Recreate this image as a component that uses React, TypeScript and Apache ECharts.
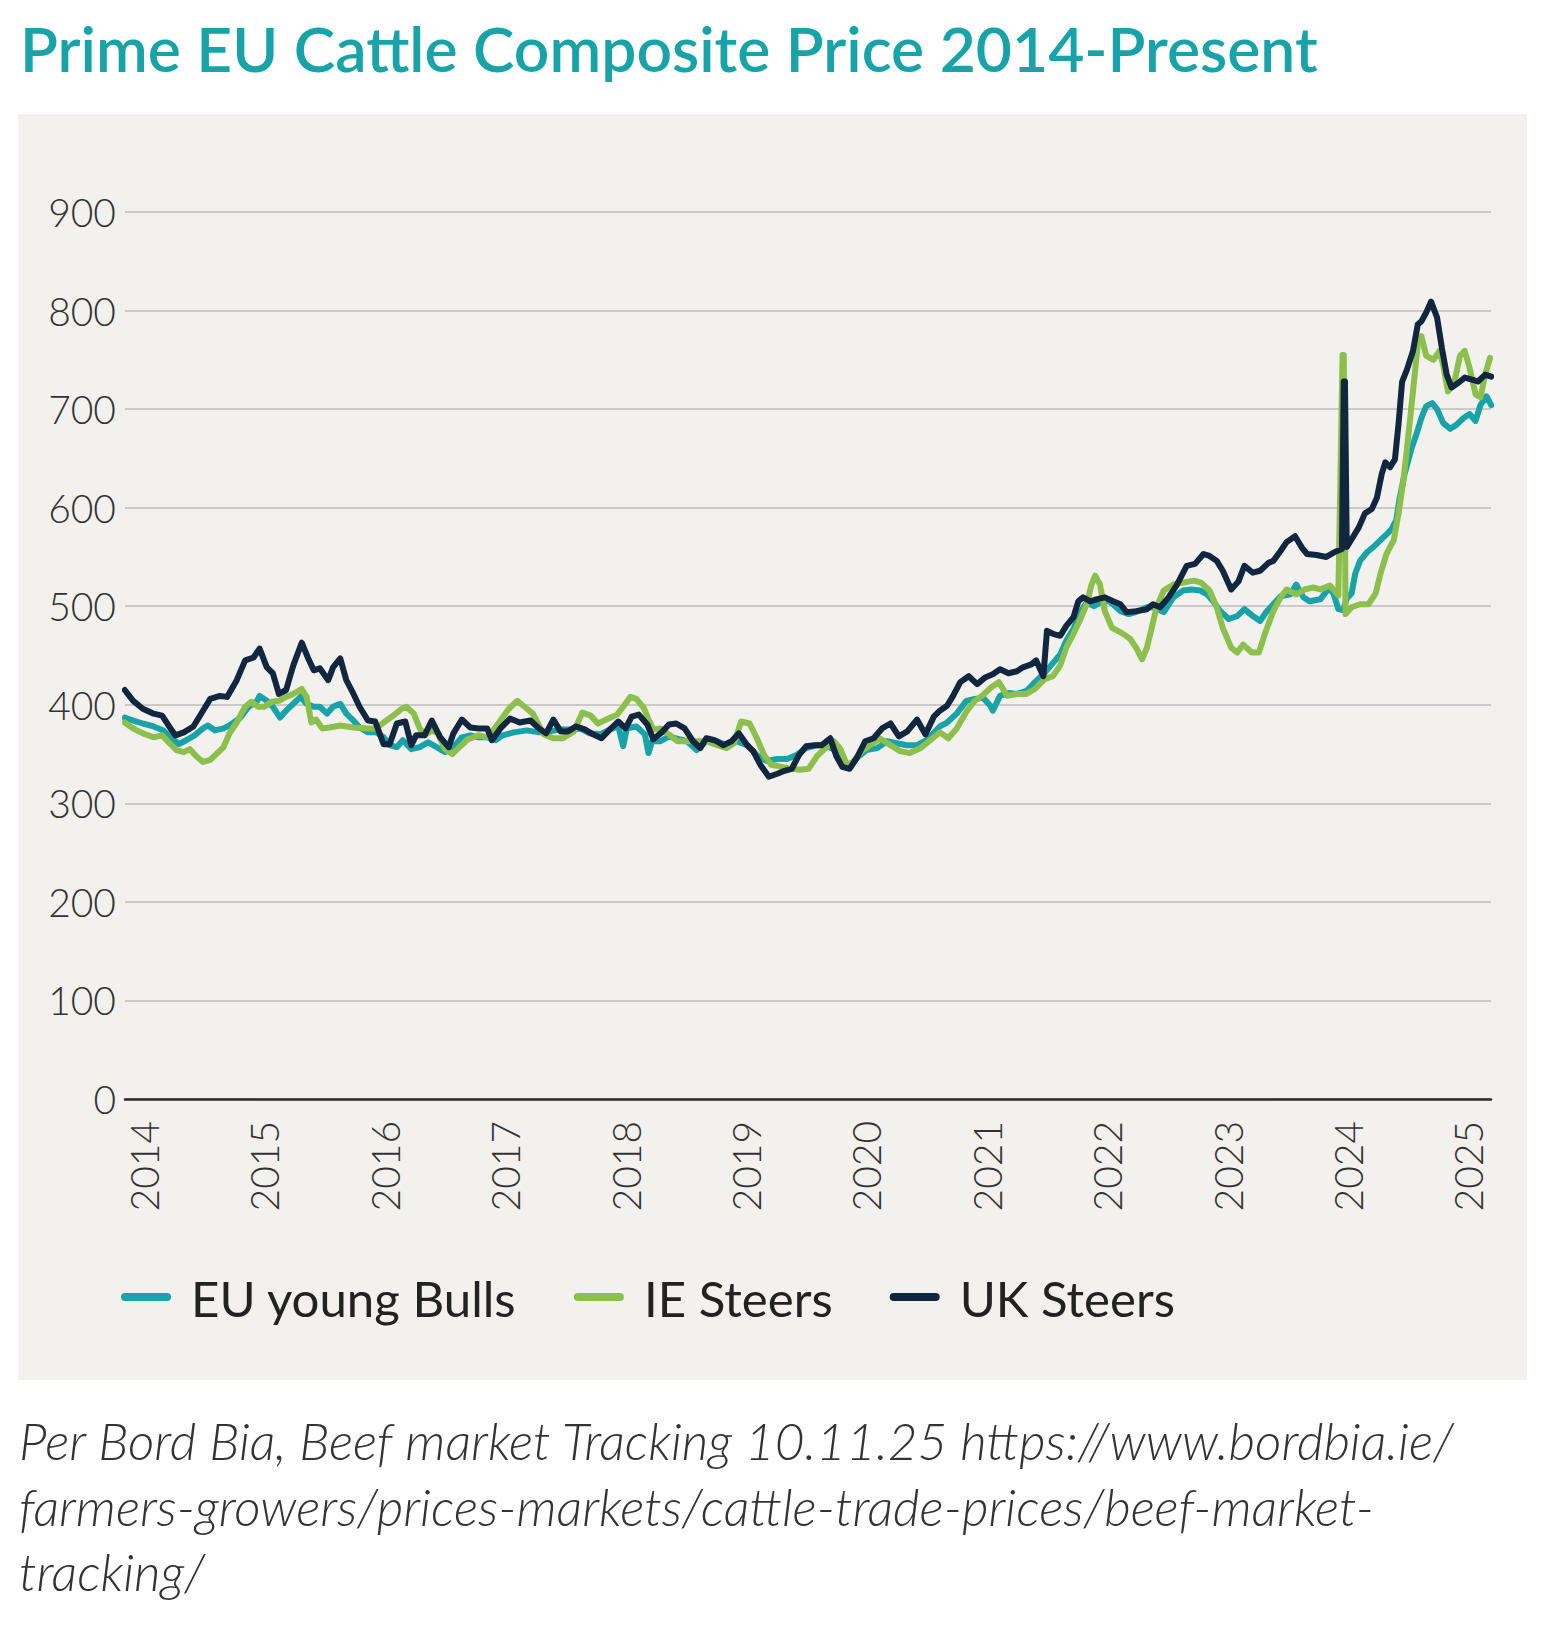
import React, { useEffect, useRef } from 'react';
import * as echarts from 'echarts';

const chartTitle = 'Prime EU Cattle Composite Price 2014-Present';
const seriesNames = ['EU young Bulls', 'IE Steers', 'UK Steers'];
const yearTicks = [2014, 2015, 2016, 2017, 2018, 2019, 2020, 2021, 2022, 2023, 2024, 2025];
const sourceLines = [
  'Per Bord Bia, Beef market Tracking 10.11.25 https://www.bordbia.ie/',
  'farmers-growers/prices-markets/cattle-trade-prices/beef-market-',
  'tracking/',
];

// [decimal year, price]
const euYoungBulls: [number, number][] = [
  [2013.84,387],[2013.91,384],[2013.99,381],[2014.08,378],[2014.16,374],[2014.22,367],[2014.29,360],[2014.35,364],[2014.42,369],[2014.49,376],[2014.53,379],[2014.59,374],[2014.66,376],[2014.71,379],[2014.80,387],[2014.87,398],[2014.94,404],[2014.96,409],[2015.02,404],[2015.07,398],[2015.13,387],[2015.18,394],[2015.24,401],[2015.30,408],[2015.35,401],[2015.41,398],[2015.46,398],[2015.52,391],[2015.57,398],[2015.63,401],[2015.68,391],[2015.74,384],[2015.79,377],[2015.86,372],[2015.93,372],[2015.99,367],[2016.04,359],[2016.10,357],[2016.15,364],[2016.22,355],[2016.29,357],[2016.36,362],[2016.43,357],[2016.50,352],[2016.57,357],[2016.64,367],[2016.71,369],[2016.78,367],[2016.85,367],[2016.92,364],[2016.98,369],[2017.07,372],[2017.18,374],[2017.28,372],
  [2017.37,373],[2017.46,375],[2017.54,375],[2017.62,376],[2017.70,371],[2017.79,370],[2017.87,375],[2017.94,378],[2017.98,358],[2018.01,376],[2018.09,378],[2018.16,370],[2018.19,351],[2018.22,363],[2018.29,363],[2018.36,368],[2018.42,366],[2018.51,363],[2018.59,354],[2018.67,363],[2018.76,363],[2018.84,359],[2018.92,363],[2019.01,359],[2019.09,349],[2019.17,343],[2019.26,345],[2019.34,345],[2019.42,349],[2019.50,356],[2019.59,359],[2019.67,359],[2019.75,353],[2019.81,339],[2019.86,337],[2019.92,346],[2020.00,354],[2020.09,356],[2020.17,363],[2020.25,361],[2020.34,359],[2020.42,359],[2020.50,364],[2020.61,378],
  [2020.67,382],[2020.75,391],[2020.83,404],[2020.90,406],[2020.97,407],[2021.03,399],[2021.05,394],[2021.11,409],[2021.18,412],[2021.25,411],[2021.33,414],[2021.40,423],[2021.47,431],[2021.54,441],[2021.61,451],[2021.66,465],[2021.72,477],[2021.77,492],[2021.83,504],[2021.89,500],[2021.96,505],[2022.02,505],[2022.11,495],[2022.18,492],[2022.26,495],[2022.33,499],[2022.38,499],[2022.47,494],[2022.55,509],[2022.63,516],[2022.70,517],[2022.77,516],[2022.83,512],[2022.88,505],[2022.94,495],[2023.01,487],[2023.08,490],[2023.14,497],[2023.21,490],[2023.27,485],[2023.32,494],[2023.38,502],[2023.44,510],[2023.52,512],[2023.57,522],[2023.63,509],[2023.68,505],[2023.77,507],
  [2023.84,518],[2023.88,513],[2023.92,497],[2023.96,496],[2023.99,508],[2024.03,513],[2024.06,533],[2024.10,546],[2024.16,555],[2024.21,560],[2024.27,567],[2024.32,573],[2024.36,578],[2024.40,587],[2024.43,610],[2024.47,634],[2024.53,661],[2024.57,675],[2024.61,691],[2024.65,703],[2024.70,706],[2024.74,700],[2024.79,686],[2024.85,680],[2024.90,684],[2024.96,691],[2025.01,695],[2025.06,688],[2025.10,704],[2025.15,713],[2025.19,704],
];

const ieSteers: [number, number][] = [
  [2013.84,382],[2013.91,376],[2013.99,371],[2014.08,367],[2014.15,369],[2014.22,360],[2014.27,354],[2014.33,352],[2014.38,355],[2014.44,347],[2014.49,342],[2014.55,344],[2014.60,350],[2014.66,357],[2014.71,371],[2014.77,382],[2014.84,398],[2014.89,403],[2014.95,398],[2015.00,398],[2015.06,403],[2015.12,404],[2015.18,408],[2015.24,411],[2015.31,416],[2015.35,408],[2015.39,382],[2015.43,385],[2015.48,376],[2015.54,377],[2015.63,379],[2015.74,377],[2015.85,376],[2015.93,376],[2015.99,382],[2016.07,389],[2016.14,396],[2016.18,398],[2016.24,391],[2016.29,376],[2016.33,369],[2016.39,374],[2016.44,371],[2016.50,355],[2016.56,350],[2016.62,357],[2016.69,365],[2016.78,369],[2016.85,367],[2016.90,374],[2016.96,384],[2017.03,396],[2017.10,404],[2017.16,398],[2017.23,391],
  [2017.32,370],[2017.40,366],[2017.48,366],[2017.57,373],[2017.64,392],[2017.71,389],[2017.77,381],[2017.84,385],[2017.93,390],[2017.98,398],[2018.04,408],[2018.09,406],[2018.15,397],[2018.19,385],[2018.23,375],[2018.29,376],[2018.36,370],[2018.43,363],[2018.51,363],[2018.59,363],[2018.67,363],[2018.76,359],[2018.84,356],[2018.90,361],[2018.96,383],[2019.03,381],[2019.09,366],[2019.15,349],[2019.21,339],[2019.30,337],[2019.38,335],[2019.45,334],[2019.52,335],[2019.59,348],[2019.66,356],[2019.73,363],[2019.78,356],[2019.84,339],[2019.89,342],[2019.96,353],[2020.03,359],[2020.11,366],[2020.20,359],[2020.28,353],[2020.36,351],[2020.45,356],[2020.53,364],
  [2020.61,372],[2020.68,366],[2020.75,376],[2020.83,393],[2020.90,404],[2020.97,410],[2021.04,418],[2021.10,423],[2021.17,409],[2021.25,411],[2021.33,411],[2021.40,416],[2021.48,426],[2021.55,429],[2021.61,440],[2021.66,458],[2021.72,472],[2021.77,485],[2021.83,502],[2021.87,522],[2021.90,531],[2021.94,522],[2021.98,495],[2022.04,478],[2022.12,473],[2022.19,467],[2022.24,458],[2022.29,446],[2022.33,458],[2022.37,478],[2022.41,499],[2022.47,516],[2022.55,522],[2022.63,524],[2022.72,526],[2022.78,524],[2022.85,516],[2022.91,499],[2022.96,478],[2023.03,458],[2023.08,453],[2023.13,461],[2023.20,453],[2023.26,453],[2023.31,472],[2023.38,495],[2023.44,509],[2023.49,517],[2023.57,512],[2023.64,517],[2023.71,519],[2023.77,517],
  [2023.85,521],[2023.92,511],[2023.955,755],[2023.965,755],[2023.98,492],[2024.03,499],[2024.10,502],[2024.17,502],[2024.23,513],[2024.27,533],[2024.32,553],[2024.38,567],[2024.42,594],[2024.46,627],[2024.50,671],[2024.54,718],[2024.58,766],[2024.61,774],[2024.65,754],[2024.71,750],[2024.76,759],[2024.79,745],[2024.83,718],[2024.88,725],[2024.93,754],[2024.97,759],[2025.01,742],[2025.06,715],[2025.10,712],[2025.14,735],[2025.18,752],
];

const ukSteers: [number, number][] = [
  [2013.84,415],[2013.91,404],[2013.99,396],[2014.08,391],[2014.15,389],[2014.22,376],[2014.26,369],[2014.33,372],[2014.41,378],[2014.49,394],[2014.55,406],[2014.63,409],[2014.69,408],[2014.77,425],[2014.84,445],[2014.91,448],[2014.96,457],[2015.02,438],[2015.07,432],[2015.12,411],[2015.18,415],[2015.24,440],[2015.31,463],[2015.36,448],[2015.41,435],[2015.46,437],[2015.53,425],[2015.57,438],[2015.63,447],[2015.68,425],[2015.74,411],[2015.79,398],[2015.86,384],[2015.92,383],[2015.99,360],[2016.04,360],[2016.10,381],[2016.17,383],[2016.22,359],[2016.26,369],[2016.33,369],[2016.39,384],[2016.46,367],[2016.53,357],[2016.57,371],[2016.64,385],[2016.71,377],[2016.78,376],[2016.85,376],[2016.89,364],[2016.96,376],[2017.04,386],[2017.12,382],[2017.21,384],[2017.28,376],
  [2017.34,371],[2017.40,385],[2017.46,373],[2017.52,373],[2017.59,378],[2017.66,375],[2017.73,370],[2017.80,366],[2017.87,375],[2017.94,383],[2018.00,376],[2018.05,388],[2018.11,390],[2018.18,380],[2018.23,365],[2018.30,372],[2018.36,380],[2018.42,381],[2018.49,376],[2018.56,363],[2018.62,356],[2018.67,366],[2018.74,364],[2018.81,359],[2018.88,363],[2018.94,371],[2019.01,359],[2019.06,353],[2019.12,339],[2019.19,327],[2019.26,330],[2019.32,333],[2019.38,335],[2019.44,349],[2019.50,358],[2019.57,359],[2019.63,359],[2019.70,366],[2019.75,348],[2019.80,337],[2019.86,335],[2019.92,346],[2019.99,363],[2020.06,366],[2020.13,376],[2020.20,381],[2020.27,368],[2020.34,373],[2020.42,385],[2020.49,370],[2020.56,388],
  [2020.61,394],[2020.67,399],[2020.72,409],[2020.78,423],[2020.85,429],[2020.92,421],[2020.99,428],[2021.05,431],[2021.11,436],[2021.18,432],[2021.25,434],[2021.30,438],[2021.37,441],[2021.41,445],[2021.47,429],[2021.50,475],[2021.55,472],[2021.61,470],[2021.66,480],[2021.72,489],[2021.76,505],[2021.80,509],[2021.86,505],[2021.91,507],[2021.98,509],[2022.05,505],[2022.11,502],[2022.16,494],[2022.24,495],[2022.33,497],[2022.38,502],[2022.44,499],[2022.51,509],[2022.58,522],[2022.66,541],[2022.73,543],[2022.80,553],[2022.85,551],[2022.91,546],[2022.96,536],[2023.03,517],[2023.09,525],[2023.14,541],[2023.21,534],[2023.27,536],[2023.34,544],[2023.38,546],[2023.44,556],[2023.49,565],[2023.56,571],[2023.62,559],
  [2023.66,553],[2023.74,552],[2023.82,550],[2023.89,555],[2023.95,558],[2023.965,728],[2023.975,728],[2023.99,560],[2024.03,568],[2024.09,580],[2024.14,594],[2024.20,599],[2024.24,610],[2024.28,634],[2024.31,646],[2024.35,641],[2024.39,649],[2024.42,685],[2024.45,728],[2024.49,740],[2024.54,759],[2024.58,786],[2024.61,789],[2024.65,798],[2024.69,809],[2024.74,793],[2024.78,762],[2024.82,735],[2024.86,722],[2024.92,727],[2024.97,732],[2025.03,730],[2025.08,728],[2025.14,735],[2025.19,733],
];

const W = 1556;
const H = 1630;
const TEAL = '#17a3a8';
const GREEN = '#8cbf4c';
const NAVY = '#13263f';

function measure(text: string, font: string): number {
  const ctx = document.createElement('canvas').getContext('2d');
  if (!ctx) return 0;
  ctx.font = font;
  return ctx.measureText(text).width;
}

function fit(text: string, fontPrefix: string, target: number, fallback: number): number {
  const w = measure(text, `${fontPrefix} 100px Lato`);
  if (!w) return fallback;
  return (100 * target) / w;
}

export default function App() {
  const ref = useRef<HTMLDivElement>(null);

  useEffect(() => {
    document.body.style.margin = '0';
    if (!ref.current) return;
    const chart = echarts.init(ref.current, null, { renderer: 'svg', width: W, height: H });

    const titleSize = fit(chartTitle, '600', 1298, 58);
    const noteSize = fit(sourceLines[0], 'italic 300', 1438, 46);
    const legendSize = fit(seriesNames[0], '400', 326, 46);

    const pill = 'path://M4,0H46A4,4,0,0,1,46,8H4A4,4,0,0,1,4,0Z';

    const mk = (name: string, data: [number, number][], color: string) => ({
      name,
      type: 'line',
      data,
      showSymbol: false,
      symbol: 'none',
      color,
      lineStyle: { color, width: 6, join: 'round', cap: 'round' },
      emphasis: { disabled: true },
    });

    const option: any = {
      animation: false,
      backgroundColor: '#ffffff',
      textStyle: { fontFamily: 'Lato' },
      graphic: [
        {
          type: 'rect',
          z: -10,
          silent: true,
          shape: { x: 18, y: 114, width: 1509, height: 1266 },
          style: { fill: '#f2f1ee' },
        },
        {
          type: 'text',
          x: 20,
          y: 47,
          style: {
            text: chartTitle,
            fill: TEAL,
            fontFamily: 'Lato',
            fontWeight: 600,
            fontSize: titleSize,
            align: 'left',
            verticalAlign: 'middle',
          },
        },
        ...sourceLines.map((line, i) => ({
          type: 'text',
          x: 19,
          y: 1440 + i * 65.5,
          style: {
            text: line,
            fill: '#333333',
            fontFamily: 'Lato',
            fontStyle: 'italic',
            fontWeight: 300,
            fontSize: noteSize,
            align: 'left',
            verticalAlign: 'middle',
          },
        })),
      ],
      legend: {
        data: seriesNames,
        left: 121,
        top: 1267,
        padding: 0,
        itemWidth: 50,
        itemHeight: 8,
        itemGap: 57,
        icon: pill,
        selectedMode: false,
        textStyle: {
          fontFamily: 'Lato',
          fontSize: legendSize,
          color: '#222222',
          padding: [0, 0, 0, 15],
          lineHeight: 60,
        },
      },
      grid: { left: 125, top: 212, width: 1366, height: 887, containLabel: false },
      xAxis: {
        type: 'value',
        min: 2013.842,
        max: 2025.188,
        axisLine: { show: true, onZero: true, lineStyle: { color: '#2a2a2a', width: 2.5 } },
        axisTick: { show: false },
        splitLine: { show: false },
        axisLabel: {
          customValues: yearTicks,
          rotate: 90,
          margin: 22,
          fontFamily: 'Lato',
          fontWeight: 300,
          fontSize: 39,
          color: '#333333',
          formatter: (v: number) => String(Math.round(v)),
        },
      },
      yAxis: {
        type: 'value',
        min: 0,
        max: 900,
        interval: 100,
        axisLine: { show: false },
        axisTick: { show: false },
        splitLine: { show: true, lineStyle: { color: '#cacaca', width: 2 } },
        axisLabel: {
          margin: 9,
          fontFamily: 'Lato',
          fontWeight: 300,
          fontSize: 39,
          color: '#333333',
        },
      },
      series: [
        mk(seriesNames[0], euYoungBulls, TEAL),
        mk(seriesNames[1], ieSteers, GREEN),
        mk(seriesNames[2], ukSteers, NAVY),
      ],
    };

    chart.setOption(option);
    return () => {
      chart.dispose();
    };
  }, []);

  return <div ref={ref} style={{ width: W, height: H }} />;
}
